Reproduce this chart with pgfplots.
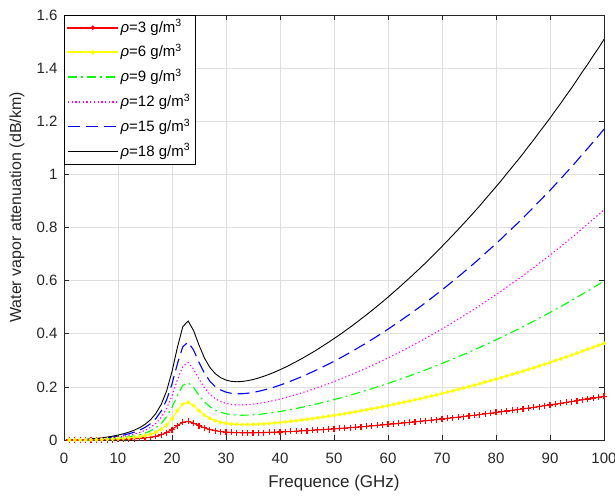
\documentclass[border=0pt]{standalone}
\usepackage{pgfplots}
\usepackage{pgfplotstable}
\pgfplotsset{compat=1.18}
\usepackage{fontspec}
\setmainfont{Liberation Sans}
\definecolor{axisgray}{RGB}{38,38,38}
\definecolor{gridgray}{RGB}{223,223,223}
\definecolor{mred}{RGB}{255,0,0}
\definecolor{myellow}{RGB}{255,255,0}
\definecolor{mgreen}{RGB}{0,255,0}
\definecolor{mmagenta}{RGB}{255,0,255}
\definecolor{mblue}{RGB}{0,0,255}

% attenuation (dB/km) per water vapour density, f in GHz
\pgfplotstableread{
f r3 r6 r9 r12 r15 r18
1 0.00002 0.00004 0.00006 0.00009 0.00012 0.00015
2 0.00007 0.00015 0.00024 0.00035 0.00047 0.00061
3 0.00015 0.00034 0.00055 0.00080 0.00108 0.00139
4 0.00028 0.00062 0.00101 0.00145 0.00195 0.00251
5 0.00045 0.00099 0.00161 0.00232 0.00312 0.00400
6 0.00067 0.00146 0.00238 0.00343 0.00459 0.00588
7 0.00094 0.00206 0.00334 0.00479 0.00641 0.00820
8 0.00128 0.00279 0.00451 0.00646 0.00863 0.01102
9 0.00170 0.00368 0.00595 0.00849 0.01131 0.01441
10 0.00222 0.00478 0.00769 0.01095 0.01455 0.01850
11 0.00286 0.00614 0.00984 0.01395 0.01848 0.02343
12 0.00366 0.00782 0.01248 0.01764 0.02329 0.02944
13 0.00469 0.00997 0.01584 0.02228 0.02931 0.03693
14 0.00605 0.01277 0.02017 0.02825 0.03701 0.04644
15 0.00788 0.01654 0.02597 0.03619 0.04718 0.05895
16 0.01042 0.02173 0.03392 0.04700 0.06096 0.07581
17 0.01409 0.02918 0.04527 0.06235 0.08044 0.09952
18 0.01953 0.04018 0.06195 0.08484 0.10885 0.13398
19 0.02767 0.05660 0.08677 0.11819 0.15086 0.18477
20 0.03948 0.08035 0.12260 0.16623 0.21125 0.25764
21 0.05429 0.11010 0.16744 0.22630 0.28668 0.34859
22 0.06694 0.13556 0.20585 0.27782 0.35145 0.42676
23 0.07005 0.14192 0.21563 0.29116 0.36853 0.44772
24 0.06367 0.12933 0.19699 0.26664 0.33827 0.41190
25 0.05412 0.11041 0.16886 0.22946 0.29223 0.35715
26 0.04564 0.09362 0.14394 0.19660 0.25159 0.30892
27 0.03931 0.08114 0.12550 0.17237 0.22177 0.27368
28 0.03487 0.07244 0.11274 0.15573 0.20144 0.24986
29 0.03186 0.06663 0.10431 0.14489 0.18838 0.23478
30 0.02981 0.06273 0.09877 0.13791 0.18017 0.22554
31 0.02848 0.06029 0.09542 0.13387 0.17564 0.22073
32 0.02770 0.05894 0.09373 0.13204 0.17391 0.21931
33 0.02731 0.05840 0.09325 0.13186 0.17424 0.22038
34 0.02724 0.05848 0.09372 0.13295 0.17619 0.22341
35 0.02734 0.05893 0.09475 0.13480 0.17909 0.22761
36 0.02768 0.05984 0.09649 0.13761 0.18322 0.23329
37 0.02815 0.06104 0.09866 0.14101 0.18810 0.23992
38 0.02875 0.06249 0.10123 0.14495 0.19368 0.24738
39 0.02944 0.06414 0.10411 0.14933 0.19981 0.25553
40 0.03025 0.06604 0.10736 0.15421 0.20660 0.26450
41 0.03114 0.06811 0.11089 0.15947 0.21386 0.27406
42 0.03213 0.07037 0.11472 0.16515 0.22169 0.28431
43 0.03317 0.07274 0.11871 0.17107 0.22982 0.29495
44 0.03426 0.07523 0.12290 0.17724 0.23829 0.30602
45 0.03542 0.07785 0.12729 0.18372 0.24715 0.31757
46 0.03665 0.08062 0.13192 0.19051 0.25643 0.32965
47 0.03788 0.08340 0.13657 0.19736 0.26580 0.34186
48 0.03927 0.08651 0.14173 0.20489 0.27604 0.35513
49 0.04059 0.08949 0.14670 0.21219 0.28600 0.36809
50 0.04200 0.09266 0.15197 0.21991 0.29650 0.38171
51 0.04343 0.09587 0.15731 0.22772 0.30713 0.39552
52 0.04497 0.09929 0.16297 0.23599 0.31836 0.41006
53 0.04652 0.10276 0.16872 0.24438 0.32975 0.42482
54 0.04809 0.10627 0.17454 0.25288 0.34131 0.43980
55 0.04978 0.11003 0.18076 0.26192 0.35355 0.45561
56 0.05139 0.11364 0.18674 0.27066 0.36544 0.47103
57 0.05313 0.11751 0.19313 0.27997 0.37804 0.48733
58 0.05490 0.12144 0.19962 0.28941 0.39085 0.50389
59 0.05669 0.12542 0.20620 0.29900 0.40384 0.52069
60 0.05850 0.12946 0.21288 0.30872 0.41702 0.53775
61 0.06046 0.13381 0.22003 0.31910 0.43104 0.55582
62 0.06233 0.13797 0.22691 0.32911 0.44462 0.57340
63 0.06436 0.14245 0.23429 0.33982 0.45908 0.59204
64 0.06628 0.14673 0.24136 0.35012 0.47307 0.61014
65 0.06836 0.15135 0.24896 0.36115 0.48796 0.62935
66 0.07033 0.15574 0.25623 0.37175 0.50234 0.64797
67 0.07248 0.16050 0.26405 0.38310 0.51768 0.66775
68 0.07466 0.16532 0.27200 0.39462 0.53325 0.68783
69 0.07687 0.17022 0.28005 0.40631 0.54905 0.70821
70 0.07912 0.17519 0.28823 0.41817 0.56508 0.72889
71 0.08139 0.18023 0.29652 0.43021 0.58134 0.74986
72 0.08370 0.18535 0.30494 0.44241 0.59783 0.77113
73 0.08604 0.19053 0.31347 0.45479 0.61455 0.79270
74 0.08842 0.19579 0.32211 0.46733 0.63150 0.81457
75 0.09082 0.20111 0.33088 0.48005 0.64869 0.83673
76 0.09326 0.20651 0.33976 0.49293 0.66610 0.85919
77 0.09573 0.21198 0.34876 0.50599 0.68374 0.88195
78 0.09844 0.21794 0.35851 0.52006 0.70267 0.90627
79 0.10098 0.22357 0.36776 0.53348 0.72080 0.92965
80 0.10356 0.22926 0.37713 0.54707 0.73917 0.95334
81 0.10616 0.23503 0.38661 0.56083 0.75776 0.97732
82 0.10903 0.24133 0.39691 0.57569 0.77775 1.00300
83 0.11171 0.24726 0.40665 0.58982 0.79683 1.02761
84 0.11441 0.25325 0.41651 0.60412 0.81615 1.05252
85 0.11715 0.25932 0.42649 0.61859 0.83569 1.07773
86 0.12018 0.26596 0.43735 0.63425 0.85675 1.10477
87 0.12299 0.27219 0.44758 0.64908 0.87679 1.13061
88 0.12610 0.27901 0.45873 0.66516 0.89840 1.15835
89 0.12899 0.28539 0.46921 0.68036 0.91893 1.18483
90 0.13190 0.29184 0.47982 0.69574 0.93970 1.21160
91 0.13513 0.29893 0.49140 0.71243 0.96212 1.24039
92 0.13812 0.30554 0.50225 0.72818 0.98339 1.26780
93 0.14144 0.31281 0.51413 0.74528 1.00637 1.29730
94 0.14450 0.31958 0.52524 0.76139 1.02813 1.32535
95 0.14790 0.32703 0.53741 0.77893 1.05168 1.35557
96 0.15135 0.33459 0.54974 0.79668 1.07553 1.38617
97 0.15452 0.34160 0.56125 0.81337 1.09807 1.41519
98 0.15805 0.34934 0.57388 0.83155 1.12246 1.44651
99 0.16129 0.35651 0.58565 0.84861 1.14549 1.47618
100 0.16491 0.36443 0.59863 0.86721 1.17047 1.50823
}\atten

\begin{document}
\begin{tikzpicture}
\useasboundingbox (0,0) rectangle (615pt,495pt);
\begin{axis}[
    at={(64pt,55pt)}, anchor=south west,
    scale only axis, width=540pt, height=425pt,
    xmin=0, xmax=100, ymin=0, ymax=1.6,
    xtick={0,10,...,100},
    ytick={0,0.2,0.4,0.6,0.8,1,1.2,1.4,1.6},
    grid=major,
    major grid style={color=gridgray, line width=0.6pt},
    axis line style={color=axisgray, line width=0.7pt},
    tick style={color=axisgray, line width=0.7pt},
    major tick length=5pt,
    /pgf/number format/assume math mode=true,
    ticklabel style={font=\fontsize{15}{18}\selectfont, text=axisgray},
    yticklabel style={/pgf/number format/fixed, /pgf/number format/precision=1, xshift=-3pt},
    xticklabel style={yshift=-9pt},
    xlabel={Frequence (GHz)},
    ylabel={Water vapor attenuation (dB/km)},
    xlabel style={font=\fontsize{17}{20}\selectfont, text=axisgray,
        at={(axis description cs:0.5,0)}, anchor=base, yshift=-47pt},
    % shifts below act in the label's rotated frame
    ylabel style={font=\fontsize{16}{19}\selectfont, text=axisgray,
        at={(axis description cs:0,0.5)}, anchor=center,
        xshift=20pt, yshift=47pt},
    legend style={at={(0,1)}, anchor=north west,
        fill=white, font=\fontsize{15}{17}\selectfont, inner xsep=3pt, inner ysep=0pt,
        nodes={text height=13pt, text depth=4pt, inner ysep=3.9pt, inner xsep=2pt}},
    legend cell align=left,
]
\addplot[color=mred, line width=1.1pt, mark=+, mark size=3pt,
    legend image code/.code={\fill[fill=mred] (0pt,-0.45pt) rectangle (50pt,0.45pt);
        \fill[fill=mred] (25pt,0pt) circle (1.6pt);}] table[x=f, y=r3] {\atten};
\addlegendentry{{\itshape ρ}=3 g/m\textsuperscript{3}}
\addplot[color=myellow, line width=1.1pt, mark=*, mark size=1.4pt,
    mark options={fill=myellow, draw=myellow},
    legend image code/.code={\fill[fill=myellow] (0pt,-0.5pt) rectangle (50pt,0.5pt);
        \fill[fill=myellow] (25pt,0pt) circle (1.6pt);}] table[x=f, y=r6] {\atten};
\addlegendentry{{\itshape ρ}=6 g/m\textsuperscript{3}}
\addplot[color=mgreen, line width=1.1pt, dash pattern=on 9pt off 4pt on 2pt off 4pt,
    legend image code/.code={\draw[draw=mgreen, line width=1.4pt,
        dash pattern=on 9pt off 4pt on 2pt off 4pt] (0pt,0pt) -- (50pt,0pt);}] table[x=f, y=r9] {\atten};
\addlegendentry{{\itshape ρ}=9 g/m\textsuperscript{3}}
\addplot[color=mmagenta, line width=1.1pt, dash pattern=on 1.3pt off 2.4pt,
    legend image code/.code={\draw[draw=mmagenta, line width=1.1pt,
        dash pattern=on 1.3pt off 2.4pt] (0pt,0pt) -- (50pt,0pt);}] table[x=f, y=r12] {\atten};
\addlegendentry{{\itshape ρ}=12 g/m\textsuperscript{3}}
\addplot[color=mblue, line width=1.1pt, dash pattern=on 12pt off 6pt,
    legend image code/.code={\draw[draw=mblue, line width=1.1pt,
        dash pattern=on 12pt off 6pt] (0pt,0pt) -- (50pt,0pt);}] table[x=f, y=r15] {\atten};
\addlegendentry{{\itshape ρ}=15 g/m\textsuperscript{3}}
\addplot[color=black, line width=0.9pt,
    legend image code/.code={\draw[draw=black, line width=0.9pt] (0pt,0pt) -- (50pt,0pt);}] table[x=f, y=r18] {\atten};
\addlegendentry{{\itshape ρ}=18 g/m\textsuperscript{3}}
\end{axis}
\end{tikzpicture}
\end{document}
